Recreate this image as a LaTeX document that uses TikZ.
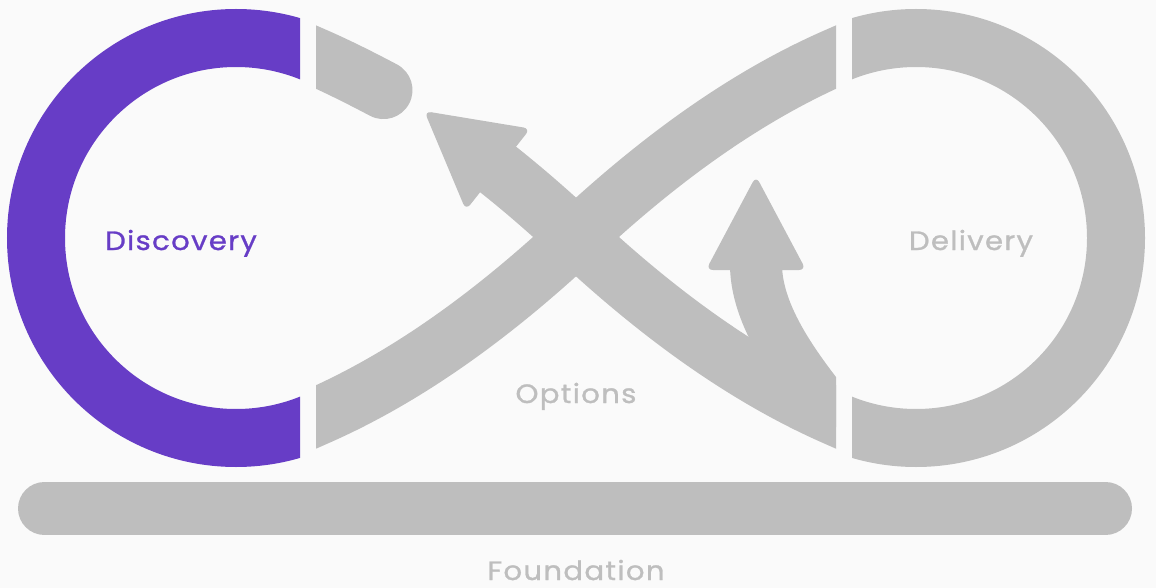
\documentclass[tikz,border=0pt]{standalone}
\usepackage{fontspec}
\setmainfont{Poppins}[FakeStretch=1.1,LetterSpace=5,FakeBold=1]
\definecolor{paper}{HTML}{FAFAFA}
\definecolor{bandgray}{HTML}{BEBEBE}
\definecolor{discpurple}{HTML}{673DC6}
\begin{document}
\begin{tikzpicture}[x=1pt,y=-1pt,
  bandstroke/.style={draw=bandgray,line width=58pt},
  tiphead/.style={fill=bandgray,rounded corners=7pt},
  txt/.style={font=\fontsize{26.5}{30}\selectfont,anchor=base,inner sep=0pt}]
\fill[paper] (0,0) rectangle (1156,588);
\useasboundingbox (0,0) rectangle (1156,588);

% Discovery loop (left half of the left ring)
\begin{scope}
  \clip (0,0) rectangle (300,588);
  \draw[discpurple,line width=58pt] (236,238) circle[radius=200];
\end{scope}

% Delivery loop (right ring)
\begin{scope}
  \clip (852,0) rectangle (1156,588);
  \draw[bandgray,line width=58pt] (916,238) circle[radius=200];
\end{scope}

% crossing bands between the loops
\begin{scope}
  \clip (316,0) rectangle (836,588);
  % rising band: bottom of Discovery to top of Delivery
  \draw[bandstroke] (297.7,425.1) -- (316,417)
    .. controls (412,375) and (499,309) .. (576,237)
    .. controls (653,165) and (740,99) .. (836,57) -- (854.3,49);
  % falling band: bottom of Delivery up to the upper arrow
  \draw[bandstroke] (854.3,425.1) -- (836,417)
    .. controls (740,375) and (653,309) .. (576,237)
    .. controls (550.6,213.2) and (524.1,190.0) .. (496.5,168.2);
  % short stub leaving the top of Discovery
  \draw[bandstroke,line cap=round] (383.5,90.1)
    .. controls (361.5,78.5) and (339.0,67.1) .. (316,57) -- (296,48.3);
  % curved branch rising toward Delivery's arrow
  \draw[bandgray,line width=52pt] (840,424)
    .. controls (804,379) and (757,322) .. (756,266);
\end{scope}

% arrow heads
\fill[tiphead] (424.3,111.1) -- (530.3,128.6) -- (465.9,210.2) -- cycle;
\fill[tiphead] (756,176) -- (806,270) -- (706,270) -- cycle;

% foundation bar
\draw[bandgray,line width=53pt,line cap=round] (44.5,508.5) -- (1105.5,508.5);

% labels
\node[txt,text=discpurple] (discovery) at (181,250) {Discovery};
\node[txt,text=bandgray] (delivery) at (971,250) {Delivery};
\node[txt,text=bandgray] (options) at (576,403) {Options};
\node[txt,text=bandgray] (foundation) at (576,580) {Foundation};
\end{tikzpicture}
\end{document}
